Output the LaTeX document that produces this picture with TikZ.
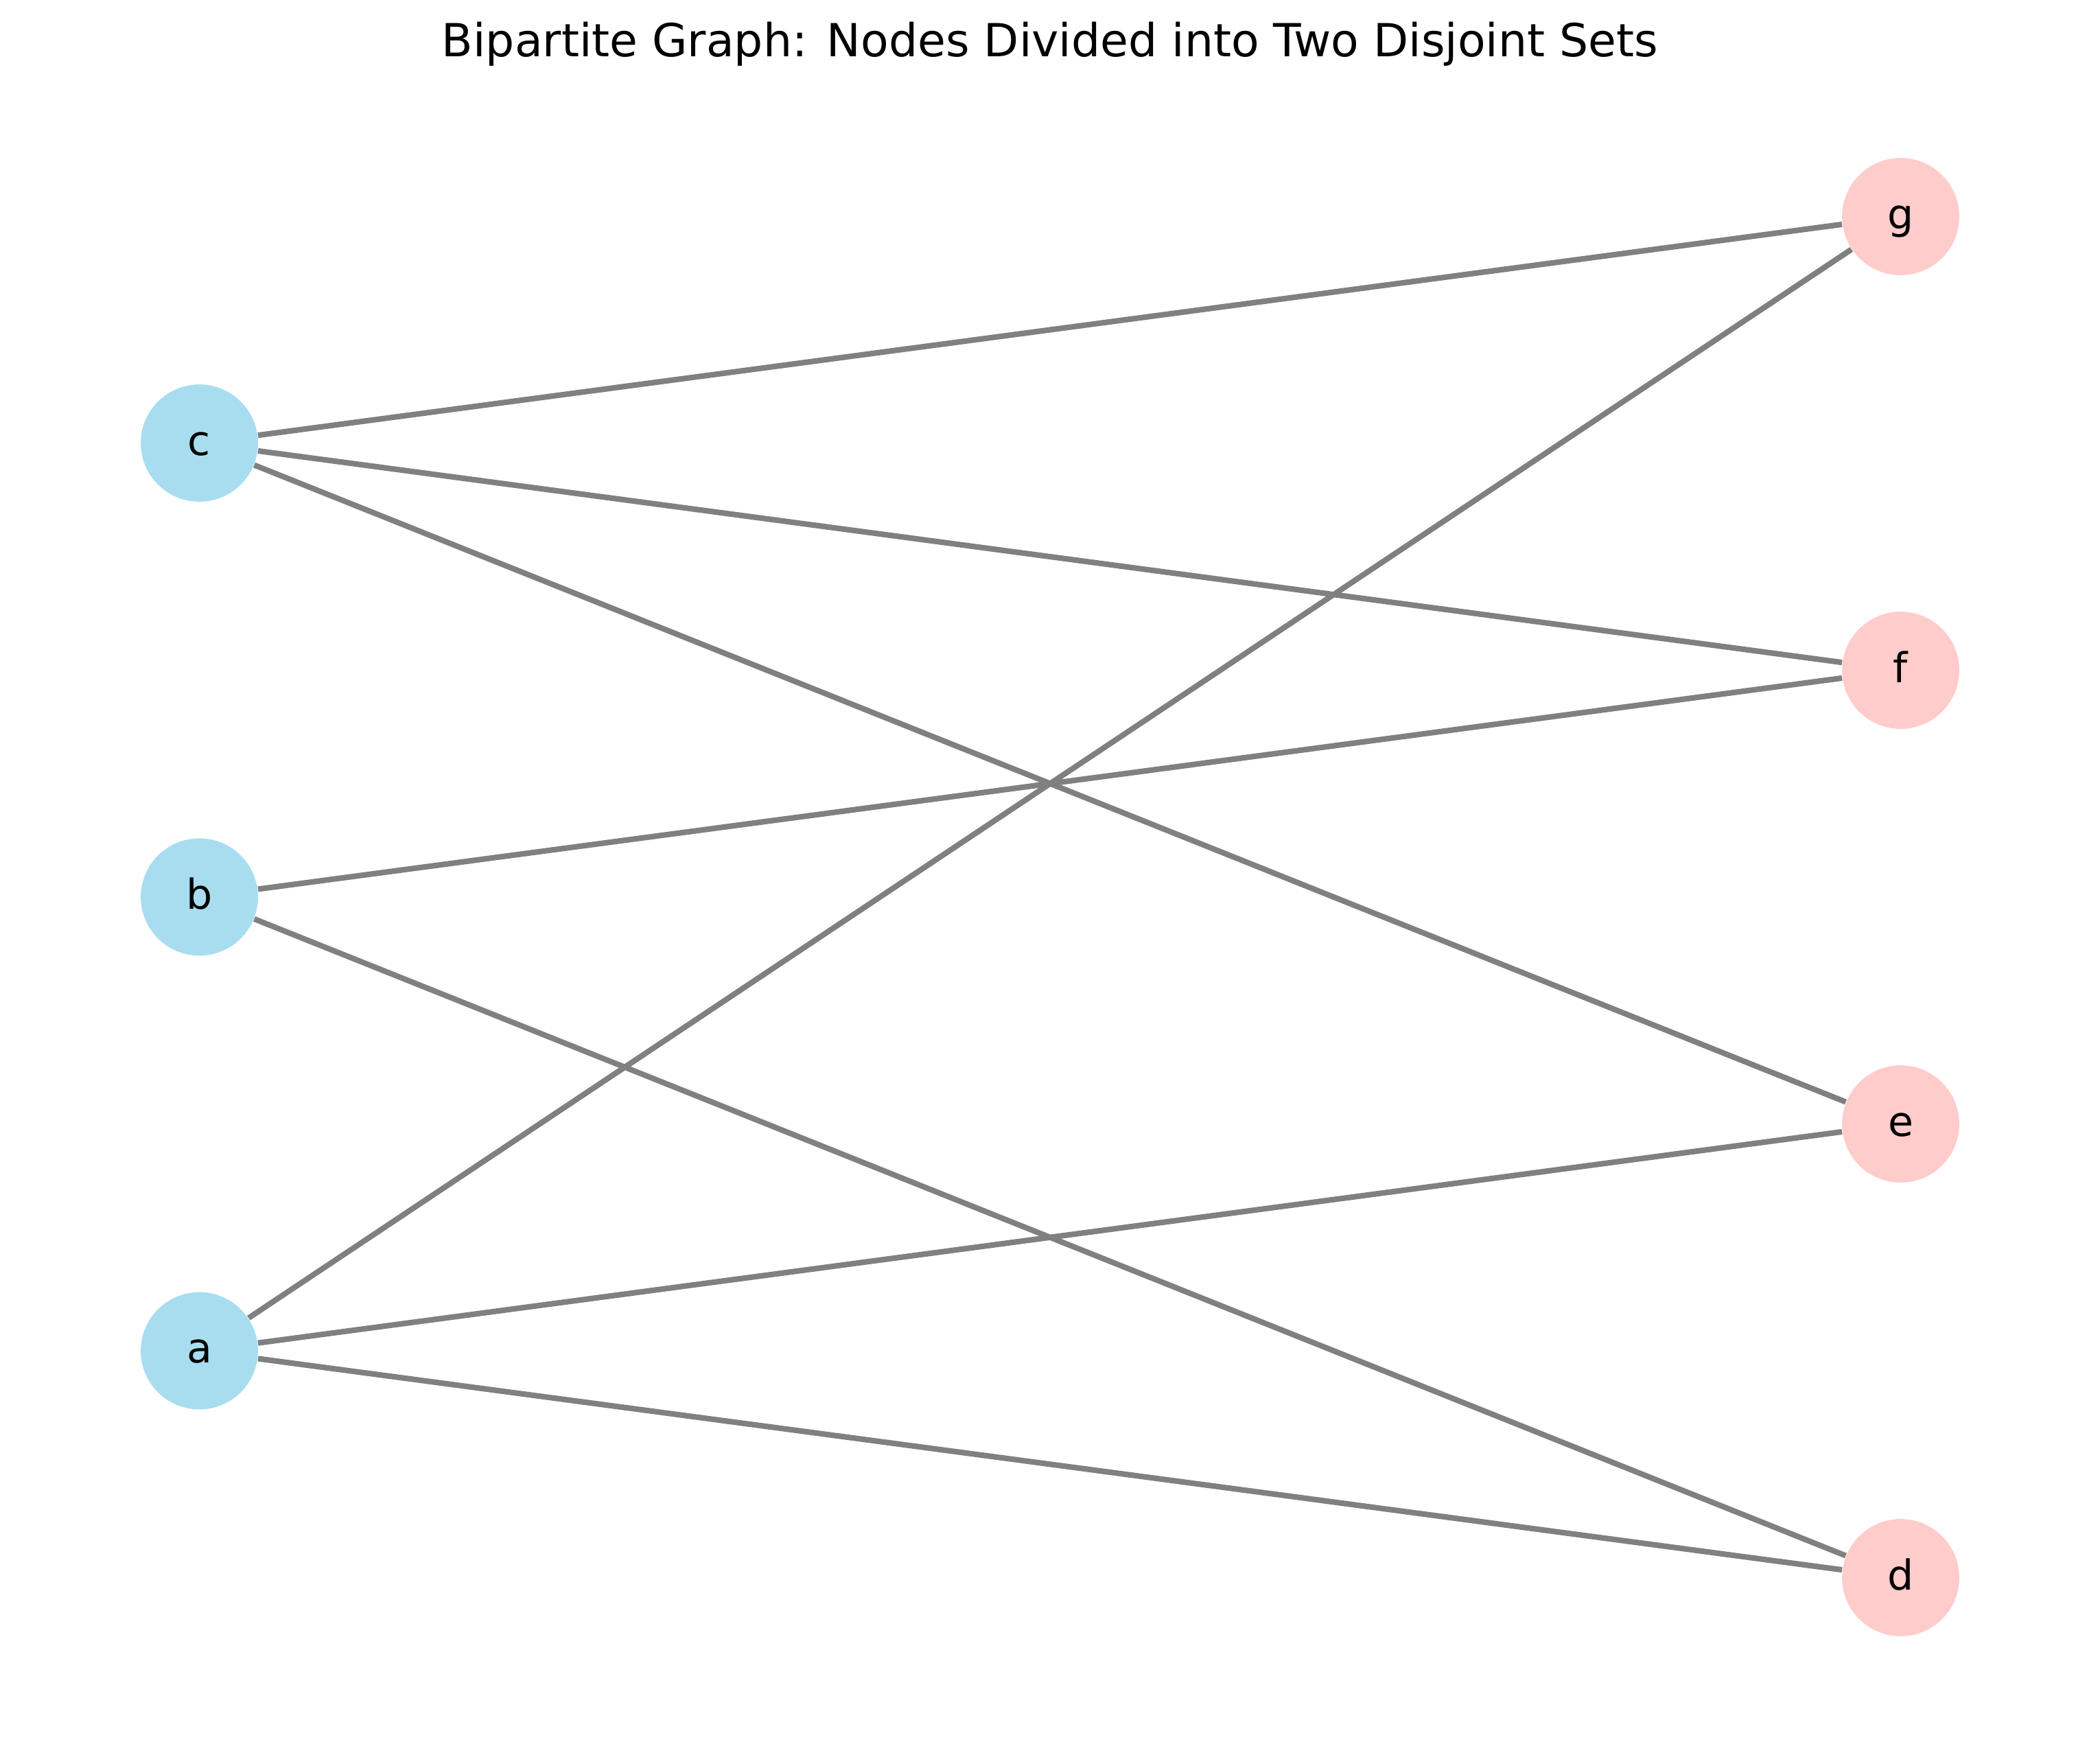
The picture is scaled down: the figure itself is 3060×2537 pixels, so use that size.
\documentclass[tikz,border=0pt]{standalone}
\usepackage{fontspec}
\setmainfont{DejaVu Sans}
\usetikzlibrary{arrows}
\definecolor{setblue}{RGB}{168,221,240}
\definecolor{setpink}{RGB}{255,204,204}

\begin{document}
\begin{tikzpicture}[x=0.24bp,y=-0.24bp,
	vertex/.style={circle,inner sep=0pt,minimum size=41bp,text height=8.4bp,text depth=0pt,font=\fontsize{14.5}{17}\selectfont},
	left/.style={vertex,fill=setblue},
	right/.style={vertex,fill=setpink},
	link/.style={draw=gray,line width=1.95bp}]
	\useasboundingbox (0,0) rectangle (3060,2537);
	\node[anchor=base,font=\fontsize{16}{19}\selectfont] (title) at (1530,82) {Bipartite Graph: Nodes Divided into Two Disjoint Sets};
	% first set
	\node[left] (c) at (290.5,645.5) {c};
	\node[left] (b) at (290.5,1306.8) {b};
	\node[left] (a) at (290.5,1968) {a};
	% second set
	\node[right] (g) at (2769.5,315.5) {g};
	\node[right] (f) at (2769.5,976.5) {f};
	\node[right] (e) at (2769.5,1637.5) {e};
	\node[right] (d) at (2769.5,2298.5) {d};
	\path[link]
	(c) edge (g)
	(c) edge (f)
	(c) edge (e)
	(b) edge (f)
	(b) edge (d)
	(a) edge (g)
	(a) edge (e)
	(a) edge (d);
\end{tikzpicture}
\end{document}
